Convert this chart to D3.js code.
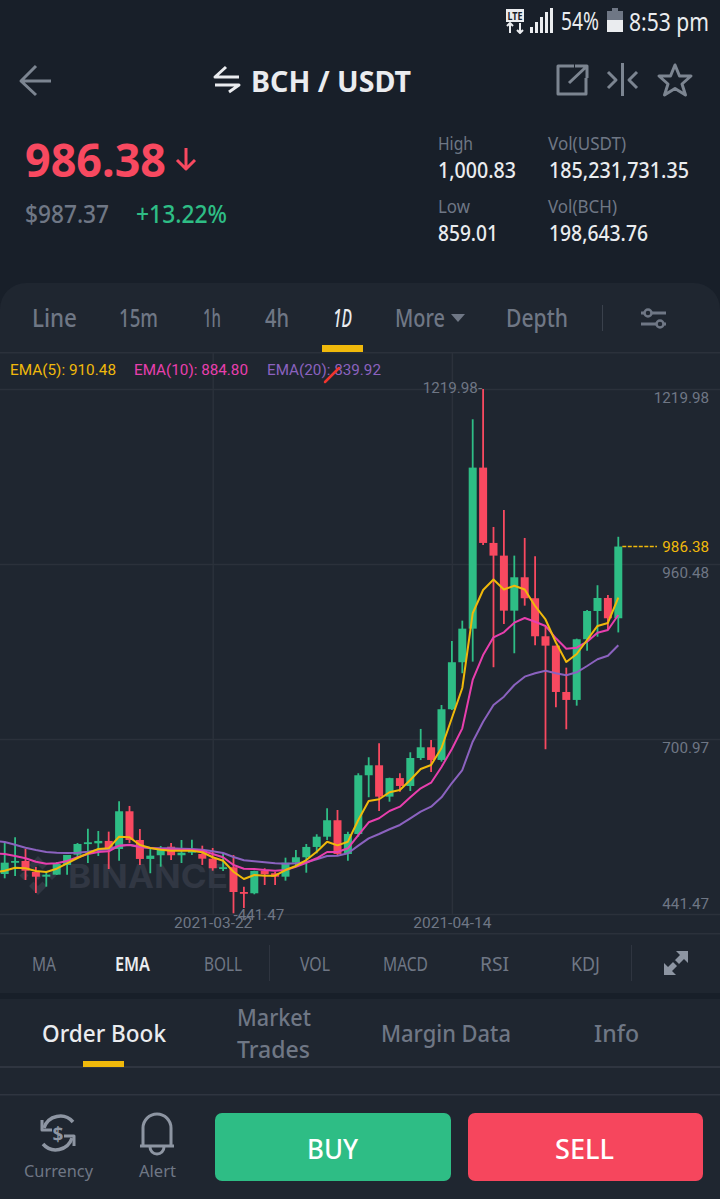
<!DOCTYPE html>
<html>
<head>
<meta charset="utf-8">
<script src="https://cdn.jsdelivr.net/npm/d3@7"></script>
<style>
  html, body { margin: 0; padding: 0; background: #181f29; }
  svg { display: block; }
</style>
</head>
<body>
<svg id="chart"></svg>
<script>
// daily candles, 2021-03-02 to 2021-04-30
let firstDay = '2021-03-02'
let lastDay = '2021-04-30'
let opens = [500.8,517.6,520.1,503.8,496.8,499.8,514.2,529.4,545.3,546.3,549.8,537.9,593.8,551.2,523.1,528.6,541.3,528.6,532.4,530.5,523.5,508.7,510.8,474.1,472.2,505.7,501.9,496.8,517.6,525.6,540.9,556.1,580.5,530.5,560.1,647.2,662,615.5,643,631.3,672.8,688.7,669.9,745.1,814.8,864.6,1103.4,991.7,972.9,891.3,940.8,909.7,853.3,839.4,770.7,758.9,848.9,890.8,910.1,880]
let highs = [548.7,555.2,537.9,511.2,504.2,518.6,529,546.8,568,564.6,563.6,608.6,601.7,567.6,538.9,542.3,546.8,551.2,551.7,542.8,539.4,532,529,482,505.7,509.3,504.2,525,536.4,545.3,559.7,598.3,595.7,563.6,650.2,673.9,694.6,643.6,650.2,681.3,715.9,699.5,751.4,846.4,876.5,1175.1,1219.98,1015.4,1040.6,972.9,999.1,972,867.1,839.4,806.8,849.8,892.3,929,914.6,1000.83]
let lows = [494.4,497.9,491.9,472.6,482,499.3,499.8,526,517.1,527.5,508.2,520.5,546.8,514.2,501.9,511.6,521.6,517.1,529,514.2,505.7,505.3,442.5,450.4,470.7,484.5,484.5,490.9,511.6,502.7,531.5,551.2,529,520.5,556.1,614.6,594.2,608,622.9,623.9,669.9,652.1,667.4,744,798.5,815.7,988.7,807.4,871.6,828.1,898.7,840,685.8,748,715.4,750.4,832,852.7,862.7,859.01]
let closes = [517.6,520.1,505.7,496.8,499.8,515.7,529,545.3,547.8,549.8,537.9,593.8,551.2,523.1,528,539.4,528.6,532.4,536.4,523.5,509.3,510.8,474.1,472.6,505.3,500.4,496.8,517.6,525.6,540.9,556.1,580.5,530.5,560.1,647.2,662,615.5,643,631.3,672.8,688.7,669.9,745.1,814.8,864.6,1103.4,991.7,972.9,891.3,940.8,909.7,853.3,839.4,770.7,758.9,848.9,890.8,910.1,880,986.38]

// the ema lists start one day earlier, the line runs off the left edge
let ema5 = [502.7,505.7,510.1,509.2,505.2,503.8,508.6,516.6,524.5,531.5,537.9,538.9,556.1,555.2,543.8,539.3,536.8,535.3,535.3,535.3,533,525.6,520.5,504.2,493.4,499.3,498.3,498.3,506.7,512.7,521.5,533.9,548.7,543.3,548.7,580.9,609,611.6,622,625.4,640.2,656.5,662.4,687.6,732.1,776.6,887.4,921.9,937.5,922.7,928.3,922.7,898.2,878.2,844.1,815.2,827,847.8,868.6,873,910.48]
let ema10 = [531.5,530.4,527.5,524.1,519,516.1,516.6,520.1,525.6,530.4,533.4,534.4,542.8,543.8,540.8,539.3,537.9,537.4,536.8,536.4,535.3,530.4,525.6,514.1,508.6,508.2,506.7,505.7,506.7,511.6,517.5,524.1,533.4,533.4,538.9,558.6,577.5,583.4,594.2,600.6,614.5,627.9,636.2,659.5,686.2,716.8,788.5,825.5,851.8,859.2,873.5,880.4,874.9,868.6,850.3,834.9,836.4,845.3,858.6,862.6,884.8]
let ema20 = [549.7,548.2,544.2,539.8,536.4,533.4,532.4,531.9,532.4,533.9,536.4,537.4,542.8,544.2,541.3,539.3,538.9,538.9,538.3,537.9,536.8,534.4,531.9,526,521.1,519.6,518.1,516.6,516.1,516.6,518.1,522.6,527.5,527.9,531.5,542.8,553.7,560.1,567.1,573.5,583.4,593.2,600.6,614.5,635.7,655,697,726.6,751.4,763.7,781.1,793.4,798.4,802.3,798.4,795.4,799.9,809.2,819.2,824.5,839.92]

let priceTicks = [1219.98, 960.48, 700.97, 441.47]
let dateTicks = ['2021-03-22', '2021-04-14']
let lastPrice = 986.38

let periodTabs = ['Line', '15m', '1h', '4h', '1D', 'More', 'Depth']
let indicatorTabs = ['MA', 'EMA', 'BOLL', 'VOL', 'MACD', 'RSI', 'KDJ']

let width = 720
let height = 1199
let uiFont = '"Noto Sans", sans-serif'
let chartFont = 'Roboto, sans-serif'

let green = '#2ebd85'
let red = '#f84960'
let gold = '#f0b90b'
let gray = '#6f7785'
let white = '#eaecef'
let gridColor = '#2b313b'

let parseDay = d3.utcParse('%Y-%m-%d')
let svg = d3.select('#chart').attr('width', width).attr('height', height)

let label = (text, x, y, w, size, color, weight, anchor) => {
  let t = svg.append('text')
     .attr('x', x)
     .attr('y', y)
     .attr('font-family', uiFont)
     .attr('font-size', size)
     .attr('font-weight', weight || 400)
     .attr('fill', color)
     .attr('text-anchor', anchor || 'start')
     .text(text)
  if (w) t.attr('textLength', w).attr('lengthAdjust', 'spacingAndGlyphs')
  return t
}

let icon = (d, color, sw) => {
  return svg.append('path')
     .attr('d', d)
     .attr('fill', 'none')
     .attr('stroke', color)
     .attr('stroke-width', sw)
     .attr('stroke-linejoin', 'round')
}

let drawBackground = () => {
  svg.append('rect').attr('width', width).attr('height', height).attr('fill', '#181f29')
  svg.append('rect').attr('y', 283).attr('width', width).attr('height', 710).attr('rx', 26).attr('fill', '#1f2630')
  svg.append('rect').attr('y', 320).attr('width', width).attr('height', 673).attr('fill', '#1f2630')
  svg.append('rect').attr('y', 999).attr('width', width).attr('height', 200).attr('fill', '#1f2630')
  svg.append('rect').attr('y', 352).attr('width', width).attr('height', 1.5).attr('fill', gridColor)
  svg.append('rect').attr('y', 933).attr('width', width).attr('height', 1.5).attr('fill', gridColor)
  svg.append('rect').attr('y', 1066).attr('width', width).attr('height', 2).attr('fill', '#2f3540')
  svg.append('rect').attr('y', 1094).attr('width', width).attr('height', 1.5).attr('fill', '#2f3540')
}

let drawStatusBar = () => {
  svg.append('rect').attr('x', 506).attr('y', 9).attr('width', 18).attr('height', 13).attr('fill', white)
  label('LTE', 507.5, 20, 15, 11, '#181f29', 700)
  icon('M510 33V23M507 26l3-3 3 3M520 23V33M517 30l3 3 3-3', white, 2)
  let bars = [6, 11, 16, 21, 25]
  bars.forEach((h, i) => {
    svg.append('rect').attr('x', 530 + i * 5).attr('y', 33 - h).attr('width', 3).attr('height', h).attr('fill', white)
  })
  label('54%', 561, 30, 38, 25, white)
  svg.append('rect').attr('x', 607).attr('y', 11).attr('width', 16).attr('height', 21).attr('fill', white)
  svg.append('rect').attr('x', 607).attr('y', 11).attr('width', 16).attr('height', 9).attr('fill', '#6f7785')
  svg.append('rect').attr('x', 612).attr('y', 8).attr('width', 6).attr('height', 3).attr('fill', '#6f7785')
  label('8:53 pm', 629, 31, 80, 25, white)
}

let drawHeader = () => {
  icon('M51 81H21M36 66L21 81L36 95', '#7c8591', 3).attr('fill', 'none')
  icon('M239 77H215L226 67M215 85H239L229 92', white, 3)
  label('BCH / USDT', 251, 92, 160, 29, white, 700)
  icon('M574 66H558V94H586V78M569 83L586 67M575 66H587V78', '#7c8591', 3)
  icon('M622.5 63V96M608 72L616 80L608 88M637 72L629 80L637 88', '#7c8591', 3)
  icon('M675 65L679.5 76H691L682 84L685.5 95L675 88.5L664.5 95L668 84L659 76H670.5Z', '#7c8591', 3)

  label('986.38', 25, 177, 141, 47, red, 700)
  icon('M186 148V169M177 160L186 169L195 160', red, 3)
  label('$987.37', 25, 223, 84, 25, gray, 500)
  label('+13.22%', 136, 223, 91, 25, green, 500)

  label('High', 438, 150, 35, 18, gray)
  label('1,000.83', 438, 178, 78, 21, white, 500)
  label('Low', 438, 213, 32, 18, gray)
  label('859.01', 438, 241, 60, 21, white, 500)
  label('Vol(USDT)', 548, 150, 78, 18, gray)
  label('185,231,731.35', 549, 178, 140, 21, white, 500)
  label('Vol(BCH)', 548, 213, 69, 18, gray)
  label('198,643.76', 549, 241, 99, 21, white, 500)
}

let drawTabs = () => {
  let left = [32, 119, 203, 265, 333, 395, 506]
  let widths = [45, 39, 18, 24, 19, 50, 62]
  periodTabs.forEach((t, i) => {
    let tab = label(t, left[i], 327, widths[i], 25, i === 4 ? white : gray, 500)
    if (i === 4) tab.attr('font-style', 'italic')
  })
  svg.append('path').attr('d', 'M451 314H465L458 322Z').attr('fill', gray)
  svg.append('rect').attr('x', 602).attr('y', 305).attr('width', 1).attr('height', 26).attr('fill', '#3a414c')
  icon('M641 313H666M641 324H666', gray, 3)
  svg.append('circle').attr('cx', 648).attr('cy', 313).attr('r', 3.5).attr('fill', '#1f2630').attr('stroke', gray).attr('stroke-width', 2.5)
  svg.append('circle').attr('cx', 660).attr('cy', 324).attr('r', 3.5).attr('fill', '#1f2630').attr('stroke', gray).attr('stroke-width', 2.5)
  svg.append('rect').attr('x', 322).attr('y', 345).attr('width', 41).attr('height', 7).attr('fill', gold)

  let indLeft = [32, 115, 204, 300, 383, 480, 571]
  let indWidths = [24, 35, 38, 30, 45, 29, 29]
  indicatorTabs.forEach((t, i) => {
    label(t, indLeft[i], 971, indWidths[i], 20, i === 1 ? white : gray, i === 1 ? 600 : 400)
  })
  svg.append('rect').attr('x', 269).attr('y', 945).attr('width', 1).attr('height', 36).attr('fill', '#2f3540')
  svg.append('rect').attr('x', 631).attr('y', 945).attr('width', 1).attr('height', 36).attr('fill', '#2f3540')
  svg.append('path').attr('d', 'M676 951H688V963L684 959L677 966L673 962L680 955ZM664 963V975H676L672 971L679 964L675 960L668 967Z').attr('fill', '#8d95a2')
  svg.append('rect').attr('y', 993).attr('width', width).attr('height', 6).attr('fill', '#181f29')

  label('Order Book', 42, 1042, 124, 24, white, 500)
  label('Market', 237, 1026, 74, 24, gray, 500)
  label('Trades', 237, 1058, 73, 24, gray, 500)
  label('Margin Data', 381, 1042, 130, 24, gray, 500)
  label('Info', 594, 1042, 45, 24, gray, 500)
  svg.append('rect').attr('x', 83).attr('y', 1061).attr('width', 41).attr('height', 6).attr('fill', gold)
}

let drawFooter = () => {
  icon('M44 1128A17 17 0 0 1 73 1122M72 1138A17 17 0 0 1 43 1144', '#8d95a2', 3.5)
  icon('M42 1120V1130H52M74 1146V1136H64', '#8d95a2', 3)
  label('$', 58, 1141, null, 19, '#8d95a2', 700, 'middle')
  icon('M143 1145V1128A14 14 0 0 1 171 1128V1145M140 1146H174M150 1147A7 7 0 0 0 164 1147', '#8d95a2', 3)
  label('Currency', 24, 1177, 69, 17, gray)
  label('Alert', 139, 1177, 37, 17, gray)
  svg.append('rect').attr('x', 215).attr('y', 1113).attr('width', 236).attr('height', 68).attr('rx', 7).attr('fill', green)
  svg.append('rect').attr('x', 468).attr('y', 1113).attr('width', 235).attr('height', 68).attr('rx', 7).attr('fill', '#f6465d')
  label('BUY', 307, 1159, 51, 27, '#fff', 500)
  label('SELL', 555, 1159, 59, 27, '#fff', 500)
}

let days = d3.utcDay.range(parseDay(firstDay), d3.utcDay.offset(parseDay(lastDay), 1))
let emaDays = [d3.utcDay.offset(days[0], -1)].concat(days)

let xScale = d3.scaleUtc().domain([days[0], days[days.length - 1]]).range([4.7, 618.3])
let yScale = d3.scaleLinear().domain([441.47, 1219.98]).range([914, 389])

let drawAxes = () => {
  let xAxis = d3.axisBottom(xScale)
                .tickValues(dateTicks.map(parseDay))
                .tickFormat(d3.utcFormat('%Y-%m-%d'))
                .tickSize(-561)
                .tickPadding(3)
  let gx = svg.append('g')
     .attr('transform', 'translate(0, 914)')
     .call(xAxis)
  gx.select('.domain').remove()
  gx.selectAll('line').attr('stroke', gridColor).attr('stroke-width', 1.5)
  gx.selectAll('text').attr('font-family', chartFont).attr('font-size', 15.5).attr('fill', gray)

  let yAxis = d3.axisRight(yScale)
                .tickValues(priceTicks)
                .tickFormat(d3.format('.2f'))
                .tickSize(width)
                .tickPadding(0)
  let gy = svg.append('g').call(yAxis)
  gy.select('.domain').remove()
  gy.selectAll('line').attr('stroke', gridColor).attr('stroke-width', 1.5)
  gy.selectAll('text')
    .attr('x', 709)
    .attr('text-anchor', 'end')
    .attr('dy', (d) => d === 441.47 ? -5.5 : 13.5)
    .attr('font-family', chartFont)
    .attr('font-size', 15.2)
    .attr('fill', gray)
}

let drawWatermark = () => {
  svg.append('text')
     .attr('x', 68)
     .attr('y', 888)
     .attr('font-family', 'Inter, sans-serif')
     .attr('font-size', 33)
     .attr('font-weight', 700)
     .attr('fill', '#313743')
     .attr('textLength', 160)
     .attr('lengthAdjust', 'spacingAndGlyphs')
     .text('BINANCE')
  svg.append('path')
     .attr('d', 'M38 856L47 865L42.5 869.5L38 865L33.5 869.5L29 865ZM24 871L28.5 875.5L24 880L19.5 875.5ZM52 871L56.5 875.5L52 880L47.5 875.5ZM38 871L42.5 875.5L38 880L33.5 875.5ZM29 886L33.5 881.5L38 886L42.5 881.5L47 886L38 895Z')
     .attr('fill', '#313743')
}

let drawCandles = () => {
  let candles = days.map((d, i) => ({ day: d, open: opens[i], high: highs[i], low: lows[i], close: closes[i] }))
  let colour = (d) => d.close >= d.open ? green : red

  let g = svg.append('g').selectAll('g').data(candles).enter().append('g')
  g.append('line')
   .attr('x1', (d) => xScale(d.day))
   .attr('x2', (d) => xScale(d.day))
   .attr('y1', (d) => yScale(d.high))
   .attr('y2', (d) => yScale(d.low))
   .attr('stroke', colour)
   .attr('stroke-width', 1.8)
  g.append('rect')
   .attr('x', (d) => xScale(d.day) - 4)
   .attr('y', (d) => yScale(Math.max(d.open, d.close)))
   .attr('width', 8)
   .attr('height', (d) => Math.max(1.8, Math.abs(yScale(d.open) - yScale(d.close))))
   .attr('fill', colour)
}

let drawEmaLines = () => {
  let line = d3.line().x((d) => xScale(d[0])).y((d) => yScale(d[1]))
  let series = [[ema20, '#8b62bf'], [ema10, '#e83fae'], [ema5, gold]]
  series.forEach((s) => {
    svg.append('path')
       .attr('d', line(emaDays.map((d, i) => [d, s[0][i]])))
       .attr('fill', 'none')
       .attr('stroke', s[1])
       .attr('stroke-width', 2)
       .attr('stroke-linejoin', 'round')
  })
}

let drawLabels = () => {
  let emaText = (t, x, w, c) => {
    label(t, x, 375, w, 15, c).attr('font-family', chartFont)
  }
  emaText('EMA(5): ' + ema5[ema5.length - 1].toFixed(2), 10, 106, gold)
  emaText('EMA(10): ' + ema10[ema10.length - 1].toFixed(2), 134, 114, '#e83fae')
  emaText('EMA(20): ' + ema20[ema20.length - 1].toFixed(2), 267, 114, '#8b62bf')
  // stray red pen mark from the screenshot
  icon('M325 382L339 368', '#f0352f', 2.5).attr('stroke-linecap', 'round')

  let maxDay = days[highs.indexOf(d3.max(highs))]
  let minDay = days[lows.indexOf(d3.min(lows))]
  label('1219.98-', xScale(maxDay) - 1, yScale(d3.max(highs)) + 4, null, 15.2, gray, 400, 'end').attr('font-family', chartFont)
  label('-441.47', xScale(minDay), yScale(441.47) + 5.5, null, 15.2, gray).attr('font-family', chartFont)

  svg.append('line')
     .attr('x1', xScale(days[59]) + 4)
     .attr('x2', 657)
     .attr('y1', yScale(lastPrice))
     .attr('y2', yScale(lastPrice))
     .attr('stroke', gold)
     .attr('stroke-width', 1.5)
     .attr('stroke-dasharray', '4 1.5')
  label(lastPrice.toFixed(2), 709, yScale(lastPrice) + 5.5, null, 15.2, gold, 400, 'end').attr('font-family', chartFont)
}

drawBackground()
drawStatusBar()
drawHeader()
drawTabs()
drawAxes()
drawWatermark()
drawCandles()
drawEmaLines()
drawLabels()
drawFooter()
</script>
</body>
</html>
